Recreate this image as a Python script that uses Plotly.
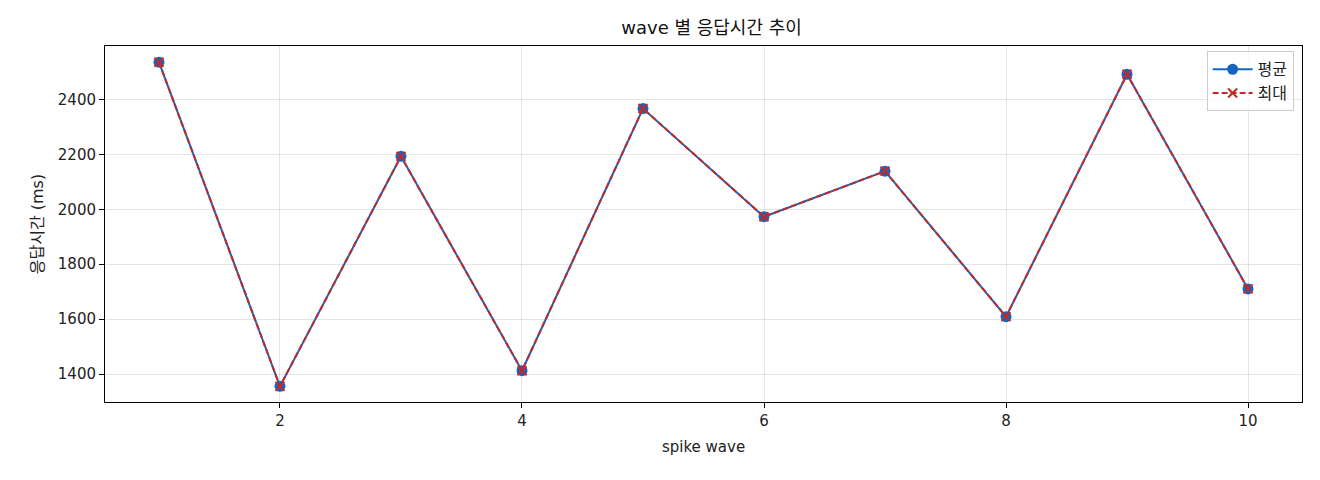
import plotly.graph_objects as go

waves = [1, 2, 3, 4, 5, 6, 7, 8, 9, 10]
avg_ms = [2536, 1355, 2193, 1412, 2367, 1973, 2139, 1609, 2492, 1710]
max_ms = [2536, 1355, 2193, 1412, 2367, 1973, 2139, 1609, 2492, 1710]

FONT = "DejaVu Sans, Noto Sans CJK KR"

fig = go.Figure()
fig.add_trace(go.Scatter(
    x=waves, y=avg_ms, name="평균", mode="lines+markers",
    line=dict(color="#1565C0", width=2),
    marker=dict(symbol="circle", size=11, color="#1565C0"),
))
fig.add_trace(go.Scatter(
    x=waves, y=max_ms, name="최대", mode="lines+markers",
    line=dict(color="#C62828", width=2, dash="6px,3px"),
    marker=dict(symbol="x-thin", size=9, line=dict(color="#C62828", width=2)),
))

axis_style = dict(
    showline=True, mirror=True, linecolor="black", linewidth=1,
    showgrid=True, gridcolor="rgba(0,0,0,0.1)", gridwidth=1,
    ticks="outside", ticklen=5, tickcolor="black",
    tickfont=dict(size=15, color="#222"), zeroline=False,
)

fig.update_layout(
    width=1320, height=480,
    margin=dict(l=97, r=26, t=38, b=86),
    paper_bgcolor="white", plot_bgcolor="white",
    font=dict(family=FONT, color="#222"),
    title=dict(text="wave 별 응답시간 추이", x=0.533, xanchor="center",
               y=0.958, yanchor="middle", font=dict(size=18, color="#111")),
    xaxis=dict(axis_style, range=[0.554, 10.446], tickvals=[2, 4, 6, 8, 10],
               title=dict(text="spike wave", font=dict(size=15), standoff=12)),
    yaxis=dict(axis_style, range=[1298, 2595], tickvals=[1400, 1600, 1800, 2000, 2200, 2400],
               title=dict(text="응답시간 (ms)", font=dict(size=16), standoff=10)),
    legend=dict(x=0.993, y=0.985, xanchor="right", yanchor="top",
                bgcolor="rgba(255,255,255,0.8)", bordercolor="#ccc", borderwidth=1,
                font=dict(size=16), itemwidth=40, tracegroupgap=4),
    showlegend=True,
)

fig.write_html("out.html")
